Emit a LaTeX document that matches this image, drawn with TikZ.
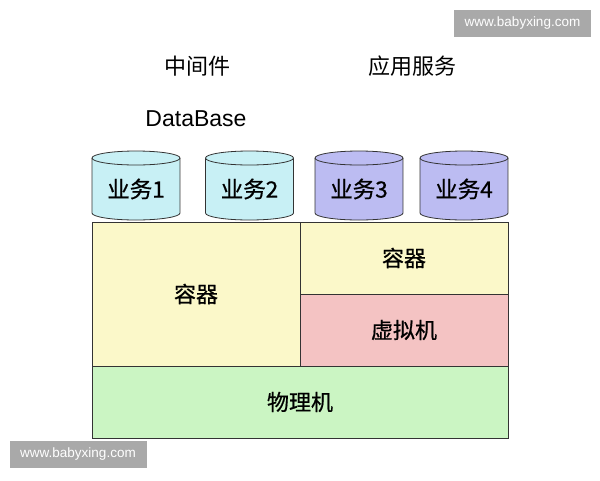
\documentclass[tikz,border=0pt]{standalone}
\usepackage{fontspec}
\setmainfont{Liberation Sans}
\newfontfamily\cjk{Noto Sans CJK SC}
\newfontfamily\cjkmid[FakeBold=0.7]{Noto Sans CJK SC}
\usetikzlibrary{positioning}

\definecolor{dbcyan}{HTML}{C8F0F5}
\definecolor{applilac}{HTML}{BCBCF2}
\definecolor{ctyellow}{HTML}{FBF8C9}
\definecolor{vmpink}{HTML}{F4C3C3}
\definecolor{pmgreen}{HTML}{CBF5C3}
\definecolor{markgray}{HTML}{A9A9A9}

\begin{document}
\begin{tikzpicture}[x=1pt,y=-1pt,
  layer/.style={draw=black!80,line width=1pt,inner sep=0pt,font=\cjkmid\fontsize{22}{26}\selectfont},
  title/.style={font=\cjk\fontsize{22}{26}\selectfont},
  label/.style={font=\cjkmid\fontsize{22.5}{26}\selectfont},
  watermark/.style={fill=markgray,text=white,inner sep=0pt,minimum width=137,minimum height=27,font=\fontsize{13.5}{15}\selectfont}]
\useasboundingbox (0,0) rectangle (600,480);
\fill[white] (0,0) rectangle (600,480);

% headings
\node[title] (mid) at (197,66) {中间件};
\node[title] (app) at (412,66) {应用服务};
\node[font=\fontsize{23}{26}\selectfont] (db) at (196,119) {DataBase};

% the four cylinders
\foreach \cx/\col/\i in {136/dbcyan/1,249.5/dbcyan/2,359/applilac/3,464/applilac/4}{
  \fill[\col] (\cx-44,158) rectangle (\cx+44,213);
  \fill[\col] (\cx,213) ellipse (44 and 7);
  \draw[black!80,line width=0.8pt] (\cx-44,158) -- (\cx-44,213)
    arc[start angle=180,end angle=0,x radius=44,y radius=7] -- (\cx+44,158);
  \filldraw[fill=\col,draw=black!80,line width=0.8pt] (\cx,158) ellipse (44 and 7);
  \node[label] (biz\i) at (\cx,189) {业务\i};
}

% layers
\node[layer,fill=ctyellow,minimum width=208,minimum height=144] (ct1) at (196,294) {容器};
\node[layer,fill=ctyellow,minimum width=208,minimum height=72] (ct2) at (404,258) {容器};
\node[layer,fill=vmpink,minimum width=208,minimum height=72] (vm) at (404,330) {虚拟机};
\node[layer,fill=pmgreen,minimum width=416,minimum height=72] (pm) at (300,402) {物理机};

% watermarks
\node[watermark] (wm1) at (522.5,23) {www.babyxing.com};
\node[watermark] (wm2) at (78,454.5) {www.babyxing.com};
\end{tikzpicture}
\end{document}
